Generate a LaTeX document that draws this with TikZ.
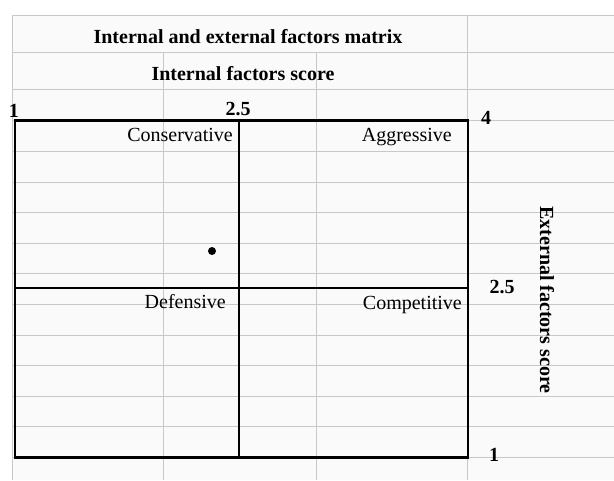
\documentclass[tikz,border=0pt]{standalone}
\usepackage{fontspec}
\setmainfont{Liberation Serif}
\definecolor{gridgray}{HTML}{C8C8C8}
\definecolor{cellbg}{HTML}{FAFAFA}
\tikzset{
  hdr/.style={font=\fontsize{20}{24}\selectfont\bfseries, inner sep=0pt},
  tick/.style={font=\fontsize{20}{24}\selectfont\bfseries, inner sep=0pt, anchor=base},
  quad/.style={font=\fontsize{20}{24}\selectfont, inner sep=0pt, anchor=base east},
  cell/.style={draw=gridgray, line width=0.9pt},
  frame/.style={draw=black, line width=2.4pt},
  dot/.style={circle, fill=black, inner sep=0pt, minimum size=8pt},
}

\begin{document}
\begin{tikzpicture}[x=1pt,y=-1pt]
\useasboundingbox (0,0) rectangle (614,480);
\fill[cellbg] (12,15) rectangle (614,480);
% sheet cells
\foreach \r in {15,52,89} \draw[cell] (12,\r) -- (614,\r);
\foreach \k in {0,...,11} \draw[cell] (12,{120.8+30.6*\k}) -- (614,{120.8+30.6*\k});
\draw[cell] (12,15) -- (12,480);
\draw[cell] (163,52) -- (163,480);
\draw[cell] (316,52) -- (316,480);
\draw[cell] (467,15) -- (467,480);

% matrix frame
\coordinate (nw) at (15,120.5);
\coordinate (se) at (468,457.5);
\coordinate (mid) at (238.5,288);
\draw[frame] (nw) rectangle (se);
\draw[frame, line width=2pt] (mid |- nw) -- (mid |- se);
\draw[frame, line width=2pt] (mid -| nw) -- (mid -| se);

\node[hdr,anchor=base] (ttl) at (248,43) {Internal and external factors matrix};
\node[hdr,anchor=base] (xlab) at (243,80) {Internal factors score};
\node[hdr,rotate=-90] (ylab) at (547,300) {External factors score};

\node[tick] (xlo) at (14,117) {1};
\node[tick] (xmid) at (238,115) {2.5};
\node[tick] (yhi) at (486,124) {4};
\node[tick] (ymid) at (502,293) {2.5};
\node[tick] (ylo) at (494,461) {1};

\node[quad] (cons) at (233,141) {Conservative};
\node[quad] (aggr) at (452,141) {Aggressive};
\node[quad] (defn) at (226,308) {Defensive};
\node[quad] (comp) at (462,309) {Competitive};

\node[dot] (pos) at (212,251) {};
\end{tikzpicture}
\end{document}
